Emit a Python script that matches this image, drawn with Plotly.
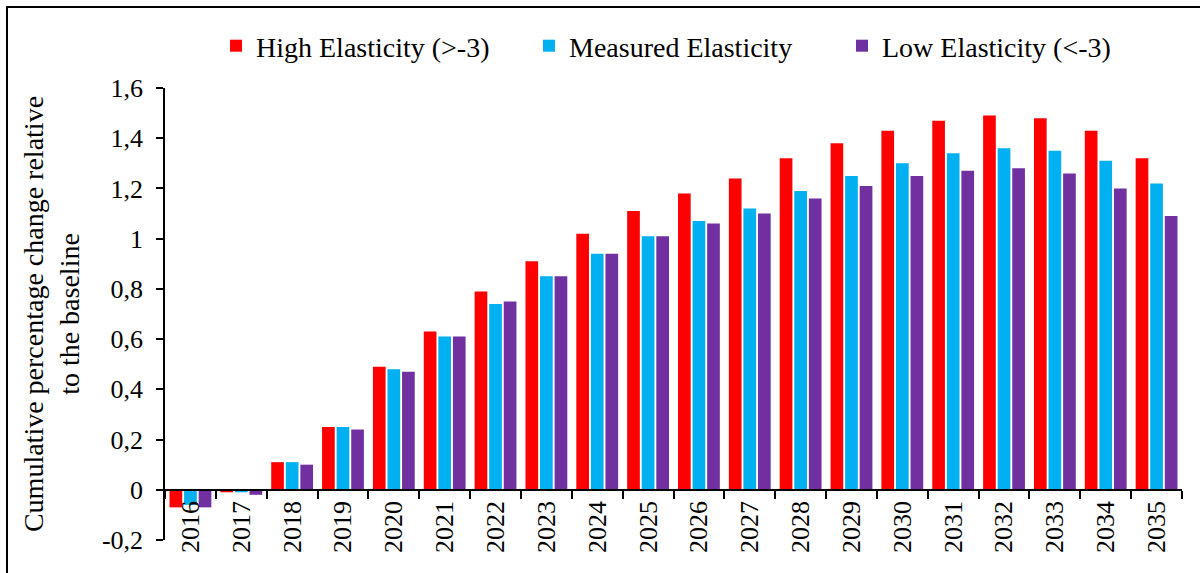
import plotly.graph_objects as go

# Years on the horizontal axis
years = [str(y) for y in range(2016, 2036)]

# Cumulative percentage change relative to the baseline, per elasticity scenario
high_elasticity = [-0.07, -0.01, 0.11, 0.25, 0.49, 0.63, 0.79, 0.91, 1.02, 1.11,
                   1.18, 1.24, 1.32, 1.38, 1.43, 1.47, 1.49, 1.48, 1.43, 1.32]
measured_elasticity = [-0.06, -0.01, 0.11, 0.25, 0.48, 0.61, 0.74, 0.85, 0.94, 1.01,
                       1.07, 1.12, 1.19, 1.25, 1.30, 1.34, 1.36, 1.35, 1.31, 1.22]
low_elasticity = [-0.07, -0.02, 0.10, 0.24, 0.47, 0.61, 0.75, 0.85, 0.94, 1.01,
                  1.06, 1.10, 1.16, 1.21, 1.25, 1.27, 1.28, 1.26, 1.20, 1.09]

series_names = ["High Elasticity (>-3)", "Measured Elasticity", "Low Elasticity (<-3)"]
series_colors = ["#FF0000", "#00B0F0", "#7030A0"]

# Y axis ticks (comma decimal separator, plain hyphen for negatives)
y_tickvals = [-0.2, 0, 0.2, 0.4, 0.6, 0.8, 1.0, 1.2, 1.4, 1.6]
y_ticktext = ["-0,2", "0", "0,2", "0,4", "0,6", "0,8", "1", "1,2", "1,4", "1,6"]
y_min, y_max = -0.2, 1.6

FONT = "Liberation Serif, Times New Roman, serif"
TICK_SIZE = 26
TEXT_SIZE = 28

fig = go.Figure()
for name, vals, color in zip(series_names,
                             [high_elasticity, measured_elasticity, low_elasticity],
                             series_colors):
    fig.add_trace(go.Bar(
        x=years, y=vals, name=name,
        marker=dict(color=color, line=dict(width=0)),
    ))

W, H = 1200, 573
M_L, M_R, M_T, M_B = 165, 18, 88, 33
plot_w = W - M_L - M_R
plot_h = H - M_T - M_B

# Category axis sits on the zero line
zero_pos = (0 - y_min) / (y_max - y_min)

fig.update_layout(
    width=W, height=H,
    margin=dict(l=M_L, r=M_R, t=M_T, b=M_B, autoexpand=False),
    paper_bgcolor="white", plot_bgcolor="white",
    font=dict(family=FONT, size=TEXT_SIZE, color="black"),
    barmode="group", bargap=0.14, bargroupgap=0.13,
    separators=", ",
    showlegend=True,
    legend=dict(
        orientation="h",
        x=(216 - M_L) / plot_w, xanchor="left",
        y=1 + (M_T - 46) / plot_h, yanchor="middle",
        bgcolor="rgba(0,0,0,0)",
        font=dict(family=FONT, size=TEXT_SIZE, color="black"),
        entrywidth=268, entrywidthmode="pixels",
        itemclick=False, itemdoubleclick=False,
    ),
    xaxis=dict(
        type="category",
        anchor="free", position=zero_pos,
        showline=True, linecolor="black", linewidth=1.5,
        ticks="outside", ticklen=8, tickwidth=1.5, tickcolor="black",
        tickson="boundaries",
        tickangle=-90,
        tickfont=dict(family=FONT, size=TICK_SIZE, color="black"),
        showgrid=False, zeroline=False,
        automargin=False,
    ),
    yaxis=dict(
        range=[y_min, y_max],
        tickvals=y_tickvals, ticktext=y_ticktext,
        showline=True, linecolor="black", linewidth=1.5,
        ticks="outside", ticklen=7, tickwidth=1.5, tickcolor="black",
        tickfont=dict(family=FONT, size=TICK_SIZE, color="black"),
        ticklabelstandoff=8,
        showgrid=False, zeroline=False,
        title=dict(text="Cumulative percentage change relative<br>to the baseline",
                   font=dict(family=FONT, size=TEXT_SIZE, color="black"),
                   standoff=14),
        automargin=False,
    ),
)

# Outer frame around the chart
fig.add_shape(
    type="rect", xref="paper", yref="paper",
    x0=(7 - M_L) / plot_w, x1=1.2,
    y0=-0.3, y1=1 + (M_T - 7) / plot_h,
    line=dict(color="black", width=2), fillcolor="rgba(0,0,0,0)",
    layer="below",
)

fig.write_html("out.html")
